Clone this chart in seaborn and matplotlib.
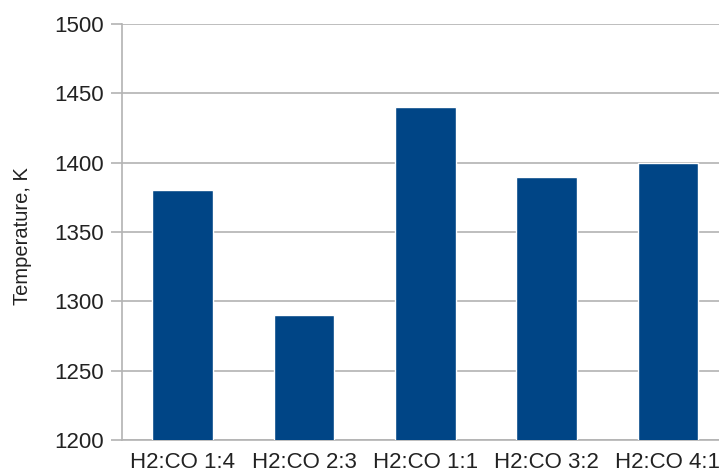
import numpy as np
import matplotlib
matplotlib.use("Agg")
import matplotlib.pyplot as plt
import seaborn as sns

# data
ratios = ['H2:CO 1:4', 'H2:CO 2:3', 'H2:CO 1:1', 'H2:CO 3:2', 'H2:CO 4:1']
temperature = [1380, 1290, 1440, 1390, 1400]
y_ticks = [1200, 1250, 1300, 1350, 1400, 1450, 1500]

sns.set_style("white")
plt.rcParams['font.family'] = ['Liberation Sans', 'DejaVu Sans']

BAR_COLOR = '#004586'
GRID_COLOR = '#b3b3b3'
TEXT_COLOR = '#222222'

fig = plt.figure(figsize=(7.19, 4.74), dpi=100)
ax = fig.add_axes([122 / 719, 34 / 474, 606.5 / 719, 416 / 474])

sns.barplot(x=ratios, y=temperature, color=BAR_COLOR, width=0.5,
            saturation=1, ax=ax, zorder=3)

ax.set_ylim(1200, 1500)
ax.set_xlim(-0.5, len(ratios) - 0.5)
ax.set_yticks(y_ticks)
ax.yaxis.grid(True, color=GRID_COLOR, linewidth=1.2, zorder=0)
ax.set_axisbelow(True)

# category ticks sit on the boundaries between bars
ax.set_xticks(np.arange(-0.5, len(ratios)), minor=True)
ax.tick_params(axis='x', which='major', length=0, pad=9,
               labelsize=16, labelcolor=TEXT_COLOR)
ax.tick_params(axis='x', which='minor', length=6, width=1.2, color=GRID_COLOR,
               direction='out')
ax.tick_params(axis='y', length=8, width=1.2, color=GRID_COLOR, pad=5,
               labelsize=16, labelcolor=TEXT_COLOR, left=True)

for side in ['top', 'right']:
    ax.spines[side].set_visible(False)
for side in ['left', 'bottom']:
    ax.spines[side].set_color(GRID_COLOR)
    ax.spines[side].set_linewidth(1.2)

ax.set_xlabel('')
ax.set_ylabel('Temperature, K', fontsize=14.5, color=TEXT_COLOR)
ax.yaxis.set_label_coords(-90 / 606.5, 0.49)

fig.savefig('out.png', dpi=100)
